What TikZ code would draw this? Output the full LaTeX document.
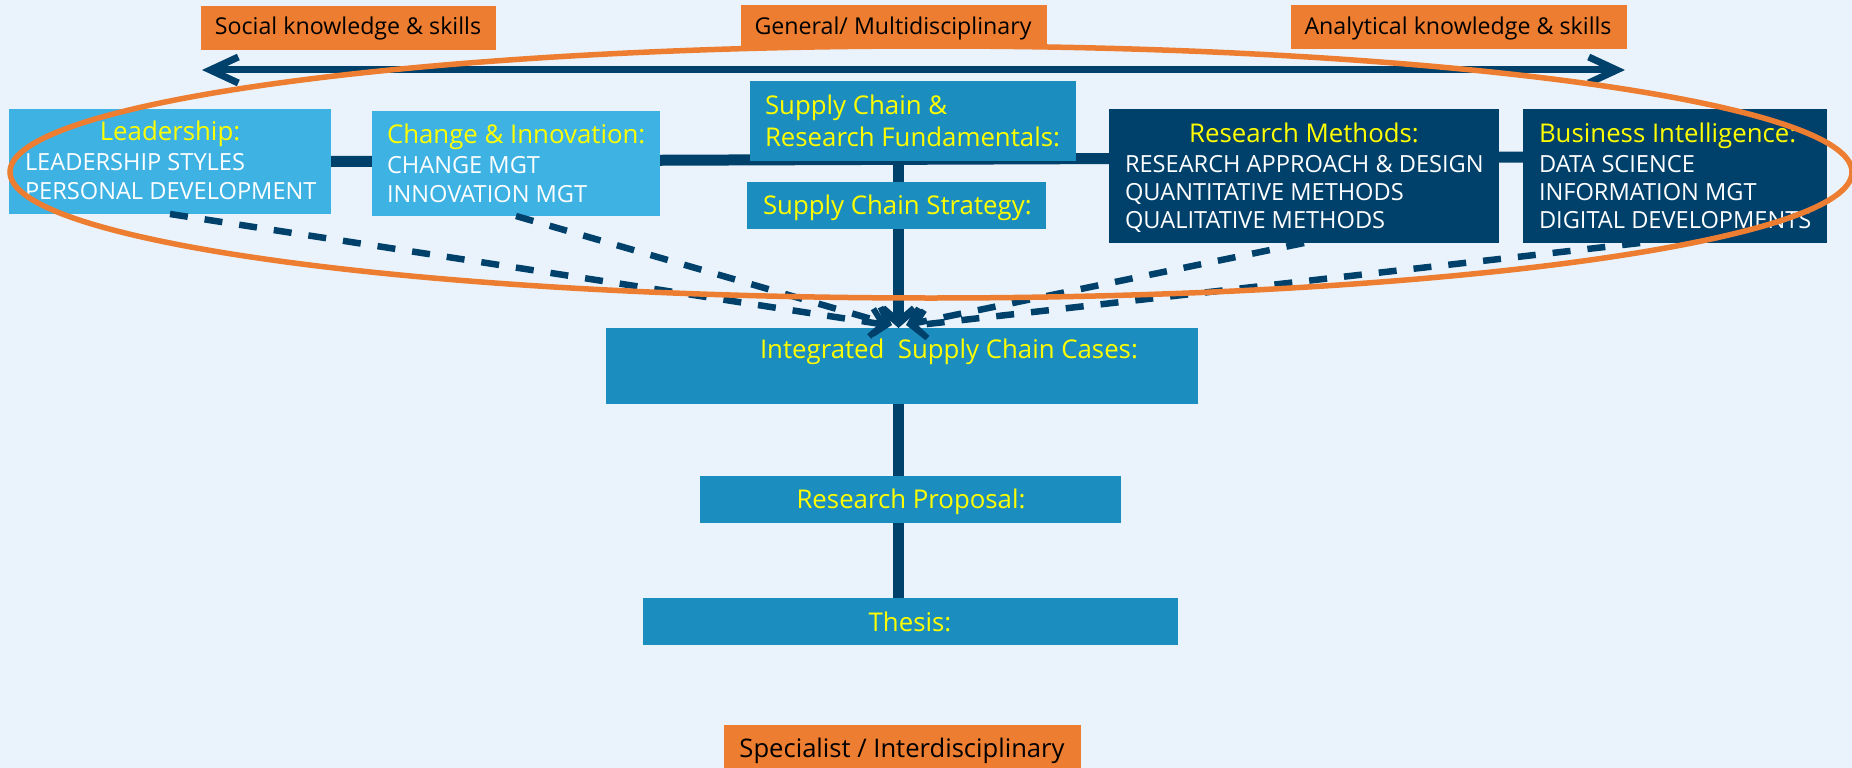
\documentclass[tikz,border=0pt]{standalone}
\usepackage{fontspec}
\setmainfont{Open Sans}
\usetikzlibrary{arrows.meta,calc,backgrounds}
\definecolor{bgc}{HTML}{EAF3FB}
\definecolor{orng}{HTML}{ED7D31}
\definecolor{navy}{HTML}{00416C}
\definecolor{lblue}{HTML}{3DB2E3}
\definecolor{mblue}{HTML}{1C8DBF}
\definecolor{ytext}{HTML}{FFFF00}
\begin{document}
\begin{tikzpicture}[x=1pt,y=-1pt,
  box/.style={draw=none, outer sep=0pt, inner sep=0pt, anchor=north west},
  obox/.style={box, fill=orng},
  lbox/.style={box, fill=lblue},
  mbox/.style={box, fill=mblue},
  nbox/.style={box, fill=navy},
  txt/.style={inner sep=0pt, outer sep=0pt},
  hd/.style={txt, text=ytext, anchor=base west, font=\fontsize{25.8}{30}\selectfont},
  hdc/.style={hd, anchor=base},
  it/.style={txt, text=white, anchor=base west, font=\fontsize{23.6}{28}\selectfont},
  lab/.style={txt, text=black, anchor=base, font=\fontsize{23.2}{28}\selectfont},
  conn/.style={draw=navy, line width=11pt},
  barb/.style={-{Straight Barb[length=14pt,width=32pt,line width=8pt]}},
  dasharrow/.style={draw=navy, line width=6.5pt, dash pattern=on 18pt off 17pt,
     -{Straight Barb[length=12pt,width=28pt,line width=6pt]}},
  toparrow/.style={draw=navy, line width=7pt,
     {Straight Barb[length=28pt,width=26pt,line width=7pt]}-{Straight Barb[length=28pt,width=26pt,line width=7pt]}},
  ring/.style={draw=orng, line width=5.5pt}
]
\useasboundingbox (0,0) rectangle (1852,768);

% helper coordinates
\coordinate (hyL) at (0,161.5);
\coordinate (hyR) at (0,157);
\coordinate (vx) at (898.5,0);
\coordinate (al) at (202,70);
\coordinate (ar) at (1625,70);
\coordinate (t1) at (887,325);
\coordinate (t2) at (892,325);
\coordinate (t3) at (906,325);
\coordinate (t4) at (910,326);
\coordinate (ringc) at (931,172);

% boxes
\node[obox, minimum width=295pt, minimum height=44pt] (soc) at (201,6) {};
\node[obox, minimum width=306pt, minimum height=44pt] (gen) at (741,5) {};
\node[obox, minimum width=336pt, minimum height=44pt] (ana) at (1291,5) {};
\node[lbox, minimum width=322pt, minimum height=105pt] (lead) at (9,109) {};
\node[lbox, minimum width=288pt, minimum height=105pt] (chg) at (372,111) {};
\node[mbox, minimum width=326pt, minimum height=80pt] (scrf) at (750,81) {};
\node[mbox, minimum width=299pt, minimum height=47pt] (scs) at (747,182) {};
\node[nbox, minimum width=390pt, minimum height=134pt] (rm) at (1109,109) {};
\node[nbox, minimum width=304pt, minimum height=134pt] (bi) at (1523,109) {};
\node[mbox, minimum width=592pt, minimum height=76pt] (isc) at (606,328) {};
\node[mbox, minimum width=421pt, minimum height=47pt] (rp) at (700,476) {};
\node[mbox, minimum width=535pt, minimum height=47pt] (th) at (643,598) {};
\node[obox, minimum width=357pt, minimum height=46pt] (spec) at (724,725) {};

% connectors behind boxes
\begin{scope}[on background layer]
\fill[bgc] (0,0) rectangle (1852,768);
\draw[conn] (lead.east |- hyL) -- (bi.west |- hyR);
\draw[conn] (vx |- scrf.south) -- (vx |- scs.north);
\draw[conn] (vx |- isc.south) -- (vx |- rp.north);
\draw[conn] (vx |- rp.south) -- (vx |- th.north);
\end{scope}
\draw[conn, barb] (vx |- scs.south) -- (vx |- isc.north);

% labels
\node[lab] (socT) at (348,35) {Social knowledge \& skills};
\node[lab] (genT) at (893,35) {General/ Multidisciplinary};
\node[lab] (anaT) at (1458,35) {Analytical knowledge \& skills};
\node[lab, font=\fontsize{25.6}{30}\selectfont] (specT) at (902,757) {Specialist / Interdisciplinary};

\node[hdc] (leadH) at (170,140) {Leadership:};
\node[it] (lead1) at (25,170) {LEADERSHIP STYLES};
\node[it] (lead2) at (25,199) {PERSONAL DEVELOPMENT};

\node[hd] (chgH) at (387,143) {Change \& Innovation:};
\node[it] (chg1) at (387,173) {CHANGE MGT};
\node[it] (chg2) at (387,202) {INNOVATION MGT};

\node[hd] (scrf1) at (765,114) {Supply Chain \&};
\node[hd] (scrf2) at (765,146) {Research Fundamentals:};
\node[hd] (scsT) at (763,214) {Supply Chain Strategy:};

\node[hdc] (rmH) at (1304,142) {Research Methods:};
\node[it] (rm1) at (1125,172) {RESEARCH APPROACH \& DESIGN};
\node[it] (rm2) at (1125,200) {QUANTITATIVE METHODS};
\node[it] (rm3) at (1125,228) {QUALITATIVE METHODS};

\node[hd] (biH) at (1539,142) {Business Intelligence:};
\node[it] (bi1) at (1539,172) {DATA SCIENCE};
\node[it] (bi2) at (1539,200) {INFORMATION MGT};
\node[it] (bi3) at (1539,228) {DIGITAL DEVELOPMENTS};

\node[hd] (iscT) at (760,358) {Integrated\ \ Supply Chain Cases:};
\node[hdc] (rpT) at (911,508) {Research Proposal:};
\node[hdc] (thT) at (910,631) {Thesis:};

% dashed arrows
\draw[dasharrow] (lead.south) -- (t1);
\draw[dasharrow] (chg.south) -- (t2);
\draw[dasharrow] (rm.south) -- (t3);
\draw[dasharrow] ($(bi.south west)!0.385!(bi.south east)$) -- (t4);

% top double arrow
\draw[toparrow] (al) -- (ar);

% orange ring
\draw[ring] (ringc) ellipse [x radius=921pt, y radius=126pt];
\end{tikzpicture}
\end{document}
